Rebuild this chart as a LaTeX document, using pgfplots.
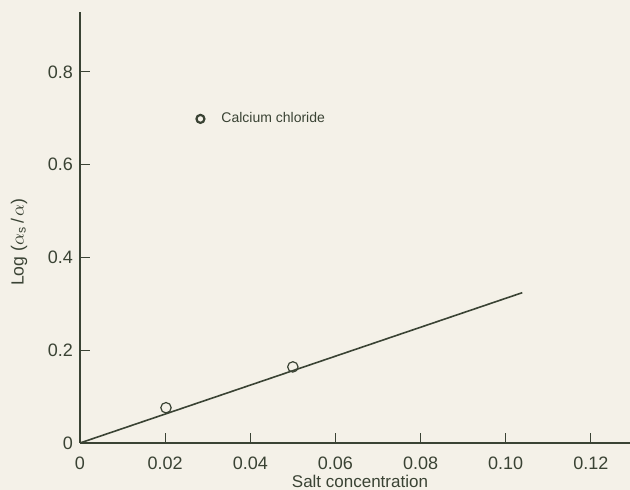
\documentclass[border=0pt]{standalone}
\usepackage{fontspec}
\setmainfont{Liberation Sans}
\usepackage{pgfplots}
\pgfplotsset{compat=1.18}
\usetikzlibrary{backgrounds}
\definecolor{ink}{HTML}{3A4334}
\definecolor{paper}{HTML}{F4F1E8}

\begin{document}
\begin{tikzpicture}
\begin{axis}[
  scale only axis,
  width=275pt, height=215.5pt,
  xmin=0, xmax=0.1292,
  ymin=0, ymax=0.929,
  axis lines=left,
  axis line style={-, line width=0.9pt, color=ink},
  tick align=inside,
  major tick length=5pt,
  tick style={line width=0.6pt, color=ink},
  xtick={0,0.02,0.04,0.06,0.08,0.10,0.12},
  xticklabels={0,0.02,0.04,0.06,0.08,0.10,0.12},
  ytick={0,0.2,0.4,0.6,0.8},
  yticklabels={0,0.2,0.4,0.6,0.8},
  ticklabel style={font=\fontsize{9}{10}\selectfont, text=ink},
  xticklabel style={yshift=-3.5pt},
  xlabel={Salt concentration},
  ylabel={Log ($\alpha_{\mathrm{s}}$\,/\,$\alpha$)},
  every axis x label/.style={at={(axis description cs:0.509,-0.09)}, anchor=center,
    font=\fontsize{8.5}{10}\selectfont, text=ink},
  every axis y label/.style={at={(axis description cs:-0.111,0.466)}, rotate=90, anchor=center,
    font=\fontsize{8.8}{10}\selectfont, text=ink},
  legend style={draw=none, fill=none, at={(axis description cs:0.211,0.752)}, anchor=west,
    inner sep=0pt, font=\fontsize{7}{8}\selectfont, text=ink,
    /tikz/every odd column/.append style={column sep=6.5pt}},
  legend image code/.code={\draw[#1, mark size=2pt, line width=1.1pt] plot coordinates {(0pt,0pt)};},
  clip=false,
]
% fitted line through the origin
\addplot[ink, line width=0.8pt, forget plot] coordinates {(0,0) (0.1039,0.324)};
% measured points
\addplot[only marks, mark=o, mark size=2.6pt, ink, line width=0.6pt] coordinates {
  (0.0202,0.076) (0.0500,0.164)};
\legend{Calcium chloride}
\end{axis}
\pgfresetboundingbox
\begin{scope}[on background layer]
\fill[paper] (-40pt,-23.5pt) rectangle (275pt,221.5pt);
\end{scope}
\path[use as bounding box] (-40pt,-23.5pt) rectangle (275pt,221.5pt);
\end{tikzpicture}
\end{document}
